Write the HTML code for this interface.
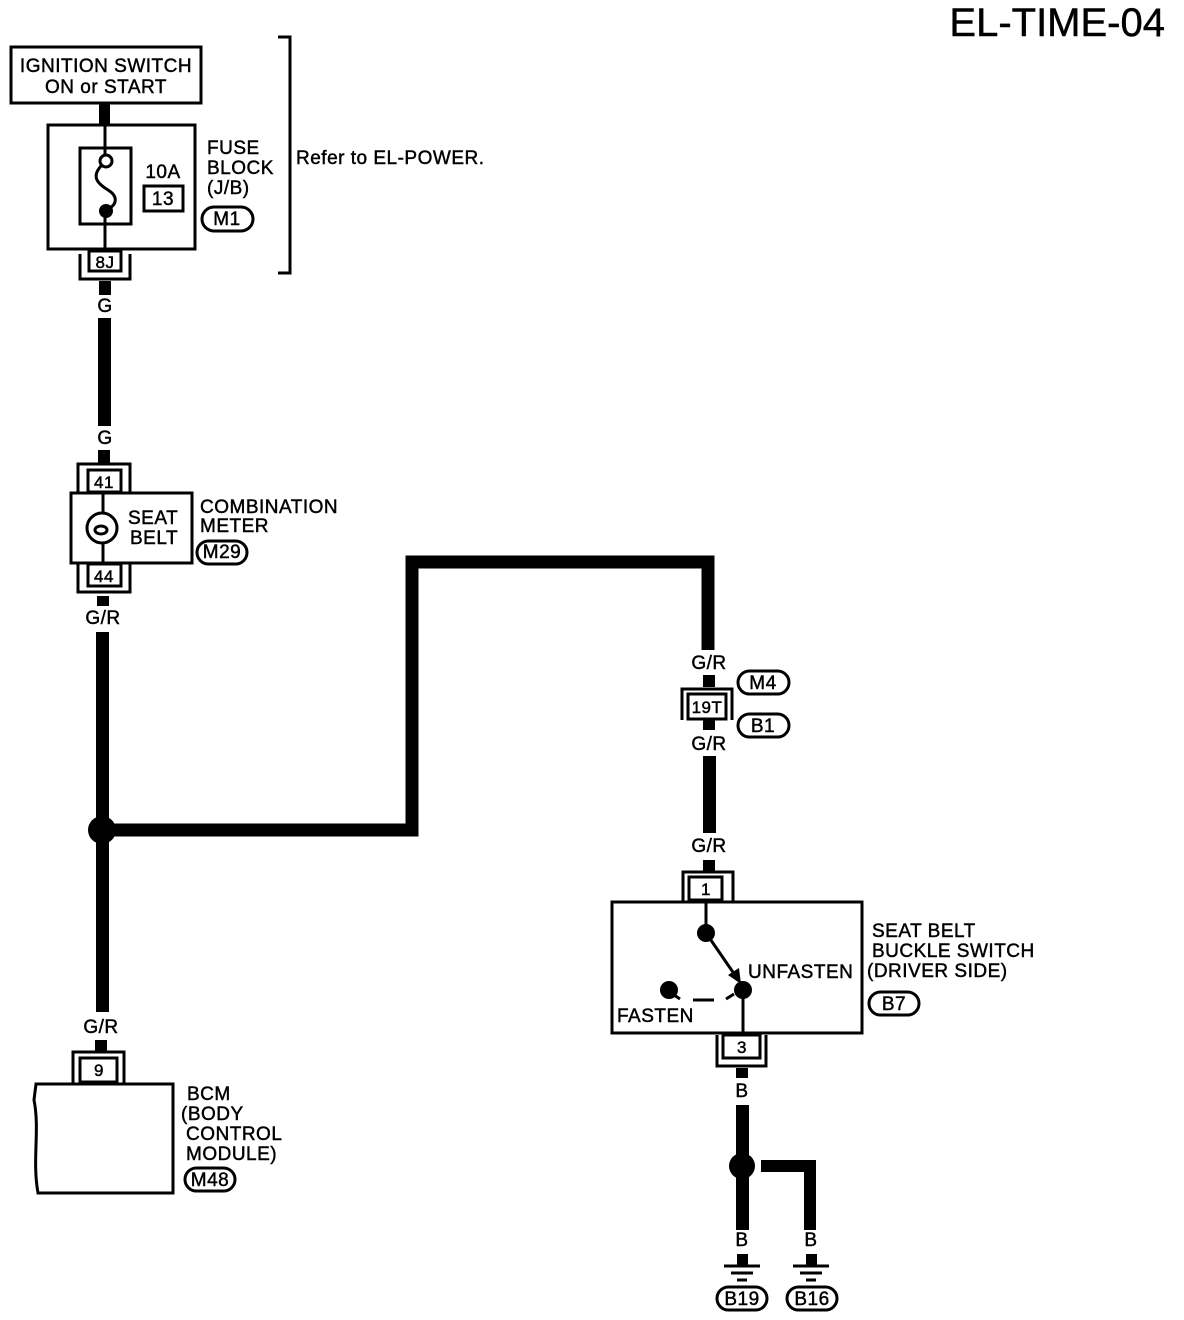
<!DOCTYPE html>
<html><head><style>body{margin:0;background:#fff}svg{display:block}text{font-family:"Liberation Sans",sans-serif;fill:#000;stroke:#000;stroke-width:0.45;letter-spacing:0.5px}</style></head>
<body>
<svg width="1184" height="1320" viewBox="0 0 1184 1320" xmlns="http://www.w3.org/2000/svg">
<g font-size="19">
<text x="1165" y="36" font-size="40" text-anchor="end" style="letter-spacing:0">EL-TIME-04</text>
<!-- ignition -->
<rect x="11" y="47" width="190" height="56" fill="none" stroke="#000" stroke-width="3"/>
<text x="106" y="72" text-anchor="middle">IGNITION SWITCH</text>
<text x="106" y="93" text-anchor="middle">ON or START</text>
<rect x="99" y="103" width="11" height="22"/>
<!-- fuse block -->
<rect x="48" y="125" width="147" height="124" fill="none" stroke="#000" stroke-width="3"/>
<rect x="80" y="148" width="51" height="76" fill="none" stroke="#000" stroke-width="3"/>
<line x1="105" y1="125" x2="105" y2="155" stroke="#000" stroke-width="3"/>
<line x1="105" y1="216" x2="105" y2="251" stroke="#000" stroke-width="3"/>
<circle cx="106" cy="161" r="6" fill="#fff" stroke="#000" stroke-width="3"/>
<path d="M101 166 C90 178,100 185,108 190 C118 196,118 205,106 210" fill="none" stroke="#000" stroke-width="3"/>
<circle cx="106" cy="211" r="7"/>
<text x="163" y="178" text-anchor="middle">10A</text>
<rect x="144" y="186" width="39" height="25" fill="none" stroke="#000" stroke-width="3"/>
<text x="163" y="205" text-anchor="middle">13</text>
<text x="207" y="154">FUSE</text><text x="207" y="174">BLOCK</text><text x="207" y="194">(J/B)</text>
<rect x="202" y="207" width="51" height="24" rx="12" fill="none" stroke="#000" stroke-width="3"/>
<text x="227" y="225" text-anchor="middle">M1</text>
<path d="M278 37 H290 V273 H278" fill="none" stroke="#000" stroke-width="3"/>
<text x="296" y="164">Refer to EL-POWER.</text>
<!-- 8J -->
<rect x="89" y="251" width="32" height="20" fill="none" stroke="#000" stroke-width="3"/>
<text x="105" y="268" text-anchor="middle" font-size="17">8J</text>
<path d="M80 254 V279 H130 V254" fill="none" stroke="#000" stroke-width="3"/>
<rect x="99" y="281" width="12" height="14"/>
<text x="105" y="312" text-anchor="middle">G</text>
<rect x="98" y="318" width="13" height="108"/>
<text x="105" y="444" text-anchor="middle">G</text>
<rect x="98" y="450" width="12" height="13"/>
<!-- combination meter -->
<path d="M78 492 V464 H130 V492" fill="none" stroke="#000" stroke-width="3"/>
<rect x="88" y="470" width="33" height="22" fill="none" stroke="#000" stroke-width="3"/>
<text x="104" y="488" text-anchor="middle" font-size="17">41</text>
<rect x="71" y="493" width="121" height="70" fill="none" stroke="#000" stroke-width="3"/>
<line x1="103" y1="493" x2="103" y2="563" stroke="#000" stroke-width="3"/>
<circle cx="102" cy="528" r="15" fill="#fff" stroke="#000" stroke-width="3"/>
<ellipse cx="101" cy="530" rx="6" ry="4" fill="none" stroke="#000" stroke-width="3"/>
<text x="128" y="524">SEAT</text><text x="130" y="544">BELT</text>
<text x="200" y="513">COMBINATION</text><text x="200" y="532">METER</text>
<rect x="197" y="541" width="50" height="23" rx="11.5" fill="none" stroke="#000" stroke-width="3"/>
<text x="222" y="558" text-anchor="middle">M29</text>
<rect x="88" y="564" width="33" height="22" fill="none" stroke="#000" stroke-width="3"/>
<text x="104" y="582" text-anchor="middle" font-size="17">44</text>
<path d="M78 563 V592 H130 V563" fill="none" stroke="#000" stroke-width="3"/>
<rect x="97" y="596" width="12" height="10"/>
<text x="103" y="624" text-anchor="middle">G/R</text>
<rect x="96" y="632" width="13" height="380"/>
<circle cx="102" cy="830" r="14"/>
<path d="M102 830 H412 V562 H708 V650" fill="none" stroke="#000" stroke-width="13"/>
<!-- 19T -->
<text x="709" y="669" text-anchor="middle">G/R</text>
<rect x="738" y="671" width="51" height="23" rx="11.5" fill="none" stroke="#000" stroke-width="3"/>
<text x="763" y="689" text-anchor="middle">M4</text>
<rect x="703" y="675" width="12" height="12"/>
<path d="M682 720 V689 H732 V720" fill="none" stroke="#000" stroke-width="3"/>
<rect x="688" y="694" width="38" height="25" fill="none" stroke="#000" stroke-width="3"/>
<text x="707" y="713" text-anchor="middle" font-size="17">19T</text>
<rect x="738" y="714" width="51" height="23" rx="11.5" fill="none" stroke="#000" stroke-width="3"/>
<text x="763" y="732" text-anchor="middle">B1</text>
<rect x="703" y="720" width="12" height="10"/>
<text x="709" y="750" text-anchor="middle">G/R</text>
<rect x="703" y="756" width="13" height="77"/>
<text x="709" y="852" text-anchor="middle">G/R</text>
<rect x="703" y="860" width="12" height="12"/>
<!-- switch -->
<path d="M683 901 V872 H733 V901" fill="none" stroke="#000" stroke-width="3"/>
<rect x="689" y="877" width="33" height="23" fill="none" stroke="#000" stroke-width="3"/>
<text x="706" y="895" text-anchor="middle" font-size="17">1</text>
<rect x="612" y="902" width="250" height="131" fill="none" stroke="#000" stroke-width="3"/>
<line x1="706" y1="902" x2="706" y2="933" stroke="#000" stroke-width="3"/>
<circle cx="706" cy="933" r="9"/>
<line x1="706" y1="933" x2="737" y2="978" stroke="#000" stroke-width="3"/>
<polygon points="741,984 728,975 739,968"/>
<circle cx="743" cy="990" r="9"/>
<circle cx="669" cy="990" r="9"/>
<line x1="693" y1="1000" x2="714" y2="1000" stroke="#000" stroke-width="3"/>
<path d="M674 995 L680 999 M726 999 L734 994" stroke="#000" stroke-width="3"/>
<line x1="743" y1="990" x2="743" y2="1035" stroke="#000" stroke-width="3"/>
<text x="748" y="978">UNFASTEN</text>
<text x="617" y="1022">FASTEN</text>
<text x="872" y="937">SEAT BELT</text><text x="872" y="957">BUCKLE SWITCH</text><text x="867" y="977">(DRIVER SIDE)</text>
<rect x="869" y="992" width="50" height="23" rx="11.5" fill="none" stroke="#000" stroke-width="3"/>
<text x="894" y="1010" text-anchor="middle">B7</text>
<rect x="723" y="1035" width="37" height="23" fill="none" stroke="#000" stroke-width="3"/>
<text x="742" y="1053" text-anchor="middle" font-size="17">3</text>
<path d="M717 1035 V1066 H766 V1035" fill="none" stroke="#000" stroke-width="3"/>
<rect x="736" y="1068" width="12" height="10"/>
<text x="742" y="1097" text-anchor="middle">B</text>
<rect x="736" y="1105" width="13" height="125"/>
<circle cx="742" cy="1166" r="13"/>
<path d="M761 1166 H810 V1230" fill="none" stroke="#000" stroke-width="12"/>
<text x="742" y="1246" text-anchor="middle">B</text>
<text x="811" y="1246" text-anchor="middle">B</text>
<rect x="737" y="1254" width="11" height="12"/>
<rect x="806" y="1254" width="11" height="12"/>
<line x1="724" y1="1266" x2="760" y2="1266" stroke="#000" stroke-width="3"/>
<line x1="731" y1="1273" x2="753" y2="1273" stroke="#000" stroke-width="3"/>
<line x1="737" y1="1280" x2="747" y2="1280" stroke="#000" stroke-width="3"/>
<line x1="793" y1="1266" x2="829" y2="1266" stroke="#000" stroke-width="3"/>
<line x1="800" y1="1273" x2="822" y2="1273" stroke="#000" stroke-width="3"/>
<line x1="806" y1="1280" x2="816" y2="1280" stroke="#000" stroke-width="3"/>
<rect x="717" y="1287" width="50" height="23" rx="11.5" fill="none" stroke="#000" stroke-width="3"/>
<text x="742" y="1305" text-anchor="middle">B19</text>
<rect x="787" y="1287" width="50" height="23" rx="11.5" fill="none" stroke="#000" stroke-width="3"/>
<text x="812" y="1305" text-anchor="middle">B16</text>
<!-- BCM -->
<text x="101" y="1033" text-anchor="middle">G/R</text>
<rect x="95" y="1040" width="12" height="12"/>
<path d="M73 1083 V1052 H124 V1083" fill="none" stroke="#000" stroke-width="3"/>
<rect x="80" y="1058" width="37" height="24" fill="none" stroke="#000" stroke-width="3"/>
<text x="99" y="1076" text-anchor="middle" font-size="17">9</text>
<path d="M36 1084 H173 V1193 H38 C32 1160,40 1130,34 1100 Z" fill="none" stroke="#000" stroke-width="3"/>
<text x="187" y="1100">BCM</text><text x="181" y="1120">(BODY</text><text x="186" y="1140">CONTROL</text><text x="186" y="1160">MODULE)</text>
<rect x="185" y="1168" width="50" height="23" rx="11.5" fill="none" stroke="#000" stroke-width="3"/>
<text x="210" y="1186" text-anchor="middle">M48</text>
</g>
</svg>
</body></html>
